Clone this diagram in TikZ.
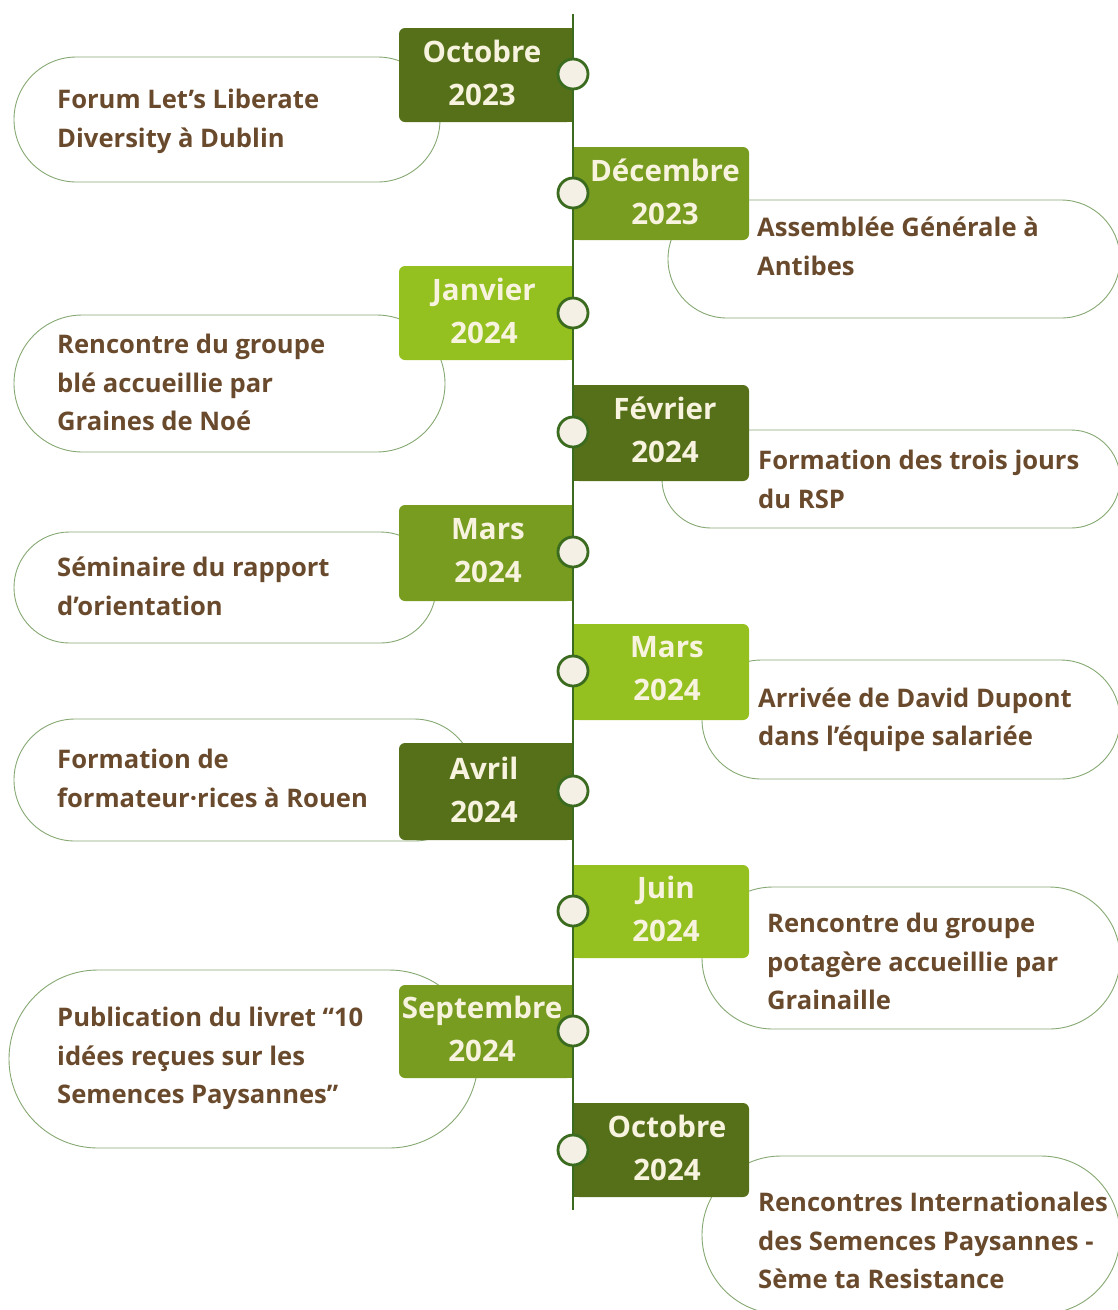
\documentclass[tikz,border=0pt]{standalone}
\usepackage{fontspec}
\setmainfont{Open Sans}
\definecolor{gdark}{HTML}{56701A}
\definecolor{gmed}{HTML}{789C20}
\definecolor{glight}{HTML}{94C11F}
\definecolor{linec}{HTML}{3A6B1E}
\definecolor{dotc}{HTML}{F4F0E6}
\definecolor{datec}{HTML}{F7F3DF}
\definecolor{descc}{HTML}{6A4A2C}
\definecolor{stadc}{HTML}{86A872}
\begin{document}
\begin{tikzpicture}[x=1pt,y=-1pt,
  stad/.style={draw=stadc, line width=0.9pt, fill=white},
  desc/.style={text=descc, font=\bfseries\fontsize{25.6}{38.5}\selectfont, align=left, anchor=west, inner sep=0pt},
  datetxt/.style={text=datec, font=\bfseries\fontsize{29.5}{43}\selectfont, align=center, inner sep=0pt},
  dot/.style={circle, draw=linec, line width=2.8pt, fill=dotc, minimum size=30pt, inner sep=0pt},
  boxr/.style={rounded corners=6pt}]
\path[use as bounding box] (0,0) rectangle (1118,1310);
\clip (0,0) rectangle (1118,1310);
\fill[white] (0,0) rectangle (1118,1310);
% stadiums
\draw[stad] (14,57) [rounded corners=62.4] rectangle (440,182);
\draw[stad] (668,200) [rounded corners=58.9] rectangle (1120,318);
\draw[stad] (14,315) [rounded corners=68.4] rectangle (445,452);
\draw[stad] (662,430) [rounded corners=48.9] rectangle (1120,528);
\draw[stad] (14,532) [rounded corners=55.4] rectangle (436,643);
\draw[stad] (702,660) [rounded corners=59.4] rectangle (1120,779);
\draw[stad] (14,719) [rounded corners=60.9] rectangle (475,841);
\draw[stad] (702,887) [rounded corners=70.9] rectangle (1120,1029);
\draw[stad] (9,970) [rounded corners=88.9] rectangle (478,1148);
\draw[stad] (702,1156) [rounded corners=78.9] rectangle (1120,1314);
% date boxes
\fill[gdark, boxr] (399,28) rectangle (573,122); \fill[gdark] (560,28) rectangle (573,122);
\fill[gmed, boxr] (573,147) rectangle (749,240); \fill[gmed] (573,147) rectangle (586,240);
\fill[glight, boxr] (399,266) rectangle (573,360); \fill[glight] (560,266) rectangle (573,360);
\fill[gdark, boxr] (573,385) rectangle (749,481); \fill[gdark] (573,385) rectangle (586,481);
\fill[gmed, boxr] (399,505) rectangle (573,601); \fill[gmed] (560,505) rectangle (573,601);
\fill[glight, boxr] (573,624) rectangle (749,720); \fill[glight] (573,624) rectangle (586,720);
\fill[gdark, boxr] (399,743) rectangle (573,840); \fill[gdark] (560,743) rectangle (573,840);
\fill[glight, boxr] (573,865) rectangle (749,958); \fill[glight] (573,865) rectangle (586,958);
\fill[gmed, boxr] (399,985) rectangle (573,1078); \fill[gmed] (560,985) rectangle (573,1078);
\fill[gdark, boxr] (573,1103) rectangle (749,1197); \fill[gdark] (573,1103) rectangle (586,1197);
% date texts
\node[datetxt] (d1) at (482,73) {Octobre\\2023};
\node[datetxt] (d2) at (665,192) {Décembre\\2023};
\node[datetxt] (d3) at (484,311) {Janvier\\2024};
\node[datetxt] (d4) at (665,430) {Février\\2024};
\node[datetxt] (d5) at (488,551) {Mars\\2024};
\node[datetxt] (d6) at (667,669) {Mars\\2024};
\node[datetxt] (d7) at (484,790) {Avril\\2024};
\node[datetxt] (d8) at (666,909) {Juin\\2024};
\node[datetxt] (d9) at (482,1029) {Septembre\\2024};
\node[datetxt] (d10) at (667,1148) {Octobre\\2024};
% timeline
\coordinate (top) at (573,14);
\coordinate (bot) at (573,1210);
\draw[linec, line width=2.8pt] (top) -- (bot);
\foreach \y [count=\i] in {74,193,313,432,552,671,791,911,1031,1150}
  \node[dot] (c\i) at (573,\y) {};
% descriptions
\node[desc] (t1) at (57,121.5) {Forum Let’s Liberate\\Diversity à Dublin};
\node[desc] (t2) at (757,246.5) {Assemblée Générale à\\Antibes};
\node[desc] (t3) at (57,382.5) {Rencontre du groupe\\blé accueillie par\\Graines de Noé};
\node[desc] (t4) at (758,479.5) {Formation des trois jours\\du RSP};
\node[desc] (t5) at (57,586.5) {Séminaire du rapport\\d’orientation};
\node[desc] (t6) at (758,720) {Arrivée de David Dupont\\dans l’équipe salariée};
\node[desc] (t7) at (57,778.5) {Formation de\\formateur·rices à Rouen};
\node[desc] (t8) at (767,961.5) {Rencontre du groupe\\potagère accueillie par\\Grainaille};
\node[desc] (t9) at (57,1058.5) {Publication du livret “10\\idées reçues sur les\\Semences Paysannes”};
\node[desc] (t10) at (758,1240.5) {Rencontres Internationales\\des Semences Paysannes -\\Sème ta Resistance};
\end{tikzpicture}
\end{document}
